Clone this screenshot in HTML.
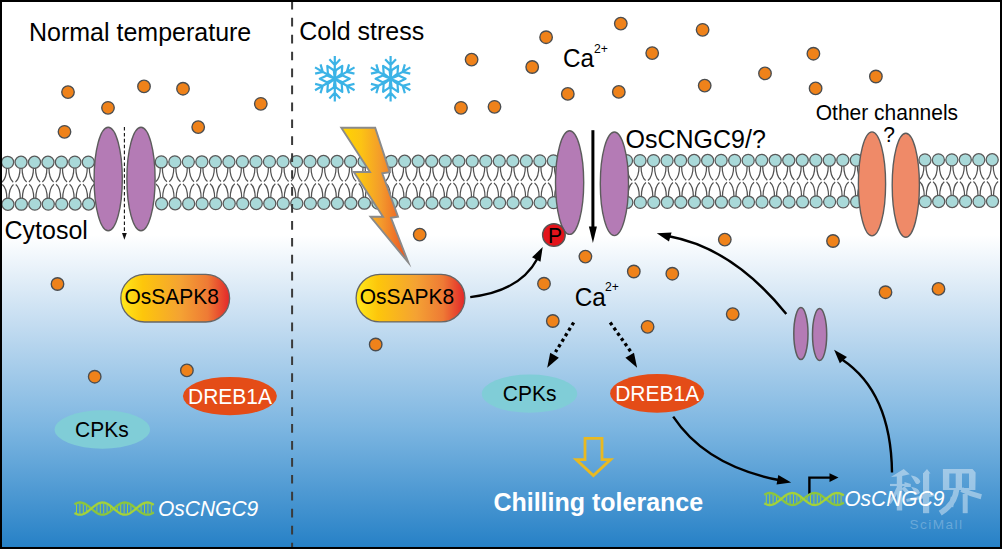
<!DOCTYPE html>
<html><head><meta charset="utf-8"><style>
html,body{margin:0;padding:0;background:#fff;overflow:hidden}
svg{display:block}
.hd{fill:#a9d9d9;stroke:#595959;stroke-width:1.25}
</style></head><body>
<svg width="1002" height="549" viewBox="0 0 1002 549">
<defs>
<linearGradient id="bg" x1="0" y1="200" x2="0" y2="549" gradientUnits="userSpaceOnUse">
<stop offset="0" stop-color="#ffffff"/>
<stop offset="0.1" stop-color="#ffffff"/>
<stop offset="0.35" stop-color="#c5ddf1"/>
<stop offset="0.65" stop-color="#7db6e1"/>
<stop offset="1" stop-color="#2580c6"/>
</linearGradient>
<linearGradient id="pillg" x1="0" y1="0" x2="1" y2="0">
<stop offset="0" stop-color="#ffea1c"/>
<stop offset="0.2" stop-color="#fdc60b"/>
<stop offset="0.55" stop-color="#f4a233"/>
<stop offset="0.8" stop-color="#ee7a35"/>
<stop offset="1" stop-color="#e3272a"/>
</linearGradient>
<linearGradient id="boltg" x1="341" y1="0" x2="408" y2="0" gradientUnits="userSpaceOnUse">
<stop offset="0" stop-color="#ffd500"/>
<stop offset="0.3" stop-color="#fcc314"/>
<stop offset="0.6" stop-color="#f39a2c"/>
<stop offset="0.85" stop-color="#ee6c28"/>
<stop offset="1" stop-color="#e8501e"/>
</linearGradient>
</defs>
<rect x="0" y="0" width="1002" height="549" fill="#ffffff"/>
<rect x="0" y="200" width="1002" height="349" fill="url(#bg)"/>
<g fill="none" stroke="#525252" stroke-width="1.25">
<path d="M6.60,167.33 C6.60,173.83 5.00,179.83 2.00,182.13 M8.60,167.33 C8.60,173.83 10.20,179.83 13.20,182.13" />
<path d="M6.90,199.23 C6.90,192.73 5.30,186.73 2.30,184.43 M8.90,199.23 C8.90,192.73 10.50,186.73 13.50,184.43" />
<path d="M20.05,167.29 C20.05,173.79 18.45,179.79 15.45,182.09 M22.05,167.29 C22.05,173.79 23.65,179.79 26.65,182.09" />
<path d="M20.35,199.19 C20.35,192.69 18.75,186.69 15.75,184.39 M22.35,199.19 C22.35,192.69 23.95,186.69 26.95,184.39" />
<path d="M33.50,167.26 C33.50,173.76 31.90,179.76 28.90,182.06 M35.50,167.26 C35.50,173.76 37.10,179.76 40.10,182.06" />
<path d="M33.80,199.15 C33.80,192.65 32.20,186.65 29.20,184.35 M35.80,199.15 C35.80,192.65 37.40,186.65 40.40,184.35" />
<path d="M46.95,167.22 C46.95,173.72 45.35,179.72 42.35,182.02 M48.95,167.22 C48.95,173.72 50.55,179.72 53.55,182.02" />
<path d="M47.25,199.11 C47.25,192.61 45.65,186.61 42.65,184.31 M49.25,199.11 C49.25,192.61 50.85,186.61 53.85,184.31" />
<path d="M60.40,167.19 C60.40,173.69 58.80,179.69 55.80,181.99 M62.40,167.19 C62.40,173.69 64.00,179.69 67.00,181.99" />
<path d="M60.70,199.07 C60.70,192.57 59.10,186.57 56.10,184.27 M62.70,199.07 C62.70,192.57 64.30,186.57 67.30,184.27" />
<path d="M73.85,167.15 C73.85,173.65 72.25,179.65 69.25,181.95 M75.85,167.15 C75.85,173.65 77.45,179.65 80.45,181.95" />
<path d="M74.15,199.03 C74.15,192.53 72.55,186.53 69.55,184.23 M76.15,199.03 C76.15,192.53 77.75,186.53 80.75,184.23" />
<path d="M87.30,167.12 C87.30,173.62 85.70,179.62 82.70,181.92 M89.30,167.12 C89.30,173.62 90.90,179.62 93.90,181.92" />
<path d="M87.60,198.99 C87.60,192.49 86.00,186.49 83.00,184.19 M89.60,198.99 C89.60,192.49 91.20,186.49 94.20,184.19" />
<circle cx="7.60" cy="162.33" r="6.05" class="hd"/>
<circle cx="7.90" cy="204.23" r="6.05" class="hd"/>
<circle cx="21.05" cy="162.29" r="6.05" class="hd"/>
<circle cx="21.35" cy="204.19" r="6.05" class="hd"/>
<circle cx="34.50" cy="162.26" r="6.05" class="hd"/>
<circle cx="34.80" cy="204.15" r="6.05" class="hd"/>
<circle cx="47.95" cy="162.22" r="6.05" class="hd"/>
<circle cx="48.25" cy="204.11" r="6.05" class="hd"/>
<circle cx="61.40" cy="162.19" r="6.05" class="hd"/>
<circle cx="61.70" cy="204.07" r="6.05" class="hd"/>
<circle cx="74.85" cy="162.15" r="6.05" class="hd"/>
<circle cx="75.15" cy="204.03" r="6.05" class="hd"/>
<circle cx="88.30" cy="162.12" r="6.05" class="hd"/>
<circle cx="88.60" cy="203.99" r="6.05" class="hd"/>
<path d="M160.30,166.93 C160.30,173.43 158.70,179.43 155.70,181.73 M162.30,166.93 C162.30,173.43 163.90,179.43 166.90,181.73" />
<path d="M160.60,198.78 C160.60,192.28 159.00,186.28 156.00,183.98 M162.60,198.78 C162.60,192.28 164.20,186.28 167.20,183.98" />
<path d="M173.82,166.89 C173.82,173.39 172.22,179.39 169.22,181.69 M175.82,166.89 C175.82,173.39 177.42,179.39 180.42,181.69" />
<path d="M174.12,198.74 C174.12,192.24 172.52,186.24 169.52,183.94 M176.12,198.74 C176.12,192.24 177.72,186.24 180.72,183.94" />
<path d="M187.34,166.86 C187.34,173.36 185.74,179.36 182.74,181.66 M189.34,166.86 C189.34,173.36 190.94,179.36 193.94,181.66" />
<path d="M187.64,198.70 C187.64,192.20 186.04,186.20 183.04,183.90 M189.64,198.70 C189.64,192.20 191.24,186.20 194.24,183.90" />
<path d="M200.86,166.82 C200.86,173.32 199.26,179.32 196.26,181.62 M202.86,166.82 C202.86,173.32 204.46,179.32 207.46,181.62" />
<path d="M201.16,198.66 C201.16,192.16 199.56,186.16 196.56,183.86 M203.16,198.66 C203.16,192.16 204.76,186.16 207.76,183.86" />
<path d="M214.38,166.79 C214.38,173.29 212.78,179.29 209.78,181.59 M216.38,166.79 C216.38,173.29 217.98,179.29 220.98,181.59" />
<path d="M214.68,198.63 C214.68,192.13 213.08,186.13 210.08,183.83 M216.68,198.63 C216.68,192.13 218.28,186.13 221.28,183.83" />
<path d="M227.90,166.75 C227.90,173.25 226.30,179.25 223.30,181.55 M229.90,166.75 C229.90,173.25 231.50,179.25 234.50,181.55" />
<path d="M228.20,198.59 C228.20,192.09 226.60,186.09 223.60,183.79 M230.20,198.59 C230.20,192.09 231.80,186.09 234.80,183.79" />
<path d="M241.42,166.71 C241.42,173.21 239.82,179.21 236.82,181.51 M243.42,166.71 C243.42,173.21 245.02,179.21 248.02,181.51" />
<path d="M241.72,198.55 C241.72,192.05 240.12,186.05 237.12,183.75 M243.72,198.55 C243.72,192.05 245.32,186.05 248.32,183.75" />
<path d="M254.94,166.68 C254.94,173.18 253.34,179.18 250.34,181.48 M256.94,166.68 C256.94,173.18 258.54,179.18 261.54,181.48" />
<path d="M255.24,198.51 C255.24,192.01 253.64,186.01 250.64,183.71 M257.24,198.51 C257.24,192.01 258.84,186.01 261.84,183.71" />
<path d="M268.46,166.64 C268.46,173.14 266.86,179.14 263.86,181.44 M270.46,166.64 C270.46,173.14 272.06,179.14 275.06,181.44" />
<path d="M268.76,198.47 C268.76,191.97 267.16,185.97 264.16,183.67 M270.76,198.47 C270.76,191.97 272.36,185.97 275.36,183.67" />
<path d="M281.98,166.61 C281.98,173.11 280.38,179.11 277.38,181.41 M283.98,166.61 C283.98,173.11 285.58,179.11 288.58,181.41" />
<path d="M282.28,198.43 C282.28,191.93 280.68,185.93 277.68,183.63 M284.28,198.43 C284.28,191.93 285.88,185.93 288.88,183.63" />
<path d="M295.50,166.57 C295.50,173.07 293.90,179.07 290.90,181.37 M297.50,166.57 C297.50,173.07 299.10,179.07 302.10,181.37" />
<path d="M295.80,198.39 C295.80,191.89 294.20,185.89 291.20,183.59 M297.80,198.39 C297.80,191.89 299.40,185.89 302.40,183.59" />
<path d="M309.02,166.54 C309.02,173.04 307.42,179.04 304.42,181.34 M311.02,166.54 C311.02,173.04 312.62,179.04 315.62,181.34" />
<path d="M309.32,198.35 C309.32,191.85 307.72,185.85 304.72,183.55 M311.32,198.35 C311.32,191.85 312.92,185.85 315.92,183.55" />
<path d="M322.54,166.50 C322.54,173.00 320.94,179.00 317.94,181.30 M324.54,166.50 C324.54,173.00 326.14,179.00 329.14,181.30" />
<path d="M322.84,198.31 C322.84,191.81 321.24,185.81 318.24,183.51 M324.84,198.31 C324.84,191.81 326.44,185.81 329.44,183.51" />
<path d="M336.06,166.47 C336.06,172.97 334.46,178.97 331.46,181.27 M338.06,166.47 C338.06,172.97 339.66,178.97 342.66,181.27" />
<path d="M336.36,198.27 C336.36,191.77 334.76,185.77 331.76,183.47 M338.36,198.27 C338.36,191.77 339.96,185.77 342.96,183.47" />
<path d="M349.58,166.43 C349.58,172.93 347.98,178.93 344.98,181.23 M351.58,166.43 C351.58,172.93 353.18,178.93 356.18,181.23" />
<path d="M349.88,198.23 C349.88,191.73 348.28,185.73 345.28,183.43 M351.88,198.23 C351.88,191.73 353.48,185.73 356.48,183.43" />
<path d="M363.10,166.40 C363.10,172.90 361.50,178.90 358.50,181.20 M365.10,166.40 C365.10,172.90 366.70,178.90 369.70,181.20" />
<path d="M363.40,198.19 C363.40,191.69 361.80,185.69 358.80,183.39 M365.40,198.19 C365.40,191.69 367.00,185.69 370.00,183.39" />
<path d="M376.62,166.36 C376.62,172.86 375.02,178.86 372.02,181.16 M378.62,166.36 C378.62,172.86 380.22,178.86 383.22,181.16" />
<path d="M376.92,198.15 C376.92,191.65 375.32,185.65 372.32,183.35 M378.92,198.15 C378.92,191.65 380.52,185.65 383.52,183.35" />
<path d="M390.14,166.33 C390.14,172.83 388.54,178.83 385.54,181.13 M392.14,166.33 C392.14,172.83 393.74,178.83 396.74,181.13" />
<path d="M390.44,198.12 C390.44,191.62 388.84,185.62 385.84,183.32 M392.44,198.12 C392.44,191.62 394.04,185.62 397.04,183.32" />
<path d="M403.66,166.29 C403.66,172.79 402.06,178.79 399.06,181.09 M405.66,166.29 C405.66,172.79 407.26,178.79 410.26,181.09" />
<path d="M403.96,198.08 C403.96,191.58 402.36,185.58 399.36,183.28 M405.96,198.08 C405.96,191.58 407.56,185.58 410.56,183.28" />
<path d="M417.18,166.25 C417.18,172.75 415.58,178.75 412.58,181.05 M419.18,166.25 C419.18,172.75 420.78,178.75 423.78,181.05" />
<path d="M417.48,198.04 C417.48,191.54 415.88,185.54 412.88,183.24 M419.48,198.04 C419.48,191.54 421.08,185.54 424.08,183.24" />
<path d="M430.70,166.22 C430.70,172.72 429.10,178.72 426.10,181.02 M432.70,166.22 C432.70,172.72 434.30,178.72 437.30,181.02" />
<path d="M431.00,198.00 C431.00,191.50 429.40,185.50 426.40,183.20 M433.00,198.00 C433.00,191.50 434.60,185.50 437.60,183.20" />
<path d="M444.22,166.18 C444.22,172.68 442.62,178.68 439.62,180.98 M446.22,166.18 C446.22,172.68 447.82,178.68 450.82,180.98" />
<path d="M444.52,197.96 C444.52,191.46 442.92,185.46 439.92,183.16 M446.52,197.96 C446.52,191.46 448.12,185.46 451.12,183.16" />
<path d="M457.74,166.15 C457.74,172.65 456.14,178.65 453.14,180.95 M459.74,166.15 C459.74,172.65 461.34,178.65 464.34,180.95" />
<path d="M458.04,197.92 C458.04,191.42 456.44,185.42 453.44,183.12 M460.04,197.92 C460.04,191.42 461.64,185.42 464.64,183.12" />
<path d="M471.26,166.11 C471.26,172.61 469.66,178.61 466.66,180.91 M473.26,166.11 C473.26,172.61 474.86,178.61 477.86,180.91" />
<path d="M471.56,197.88 C471.56,191.38 469.96,185.38 466.96,183.08 M473.56,197.88 C473.56,191.38 475.16,185.38 478.16,183.08" />
<path d="M484.78,166.08 C484.78,172.58 483.18,178.58 480.18,180.88 M486.78,166.08 C486.78,172.58 488.38,178.58 491.38,180.88" />
<path d="M485.08,197.84 C485.08,191.34 483.48,185.34 480.48,183.04 M487.08,197.84 C487.08,191.34 488.68,185.34 491.68,183.04" />
<path d="M498.30,166.04 C498.30,172.54 496.70,178.54 493.70,180.84 M500.30,166.04 C500.30,172.54 501.90,178.54 504.90,180.84" />
<path d="M498.60,197.80 C498.60,191.30 497.00,185.30 494.00,183.00 M500.60,197.80 C500.60,191.30 502.20,185.30 505.20,183.00" />
<path d="M511.82,166.01 C511.82,172.51 510.22,178.51 507.22,180.81 M513.82,166.01 C513.82,172.51 515.42,178.51 518.42,180.81" />
<path d="M512.12,197.76 C512.12,191.26 510.52,185.26 507.52,182.96 M514.12,197.76 C514.12,191.26 515.72,185.26 518.72,182.96" />
<path d="M525.34,165.97 C525.34,172.47 523.74,178.47 520.74,180.77 M527.34,165.97 C527.34,172.47 528.94,178.47 531.94,180.77" />
<path d="M525.64,197.72 C525.64,191.22 524.04,185.22 521.04,182.92 M527.64,197.72 C527.64,191.22 529.24,185.22 532.24,182.92" />
<path d="M538.86,165.94 C538.86,172.44 537.26,178.44 534.26,180.74 M540.86,165.94 C540.86,172.44 542.46,178.44 545.46,180.74" />
<path d="M539.16,197.68 C539.16,191.18 537.56,185.18 534.56,182.88 M541.16,197.68 C541.16,191.18 542.76,185.18 545.76,182.88" />
<path d="M552.38,165.90 C552.38,172.40 550.78,178.40 547.78,180.70 M554.38,165.90 C554.38,172.40 555.98,178.40 558.98,180.70" />
<path d="M552.68,197.65 C552.68,191.15 551.08,185.15 548.08,182.85 M554.68,197.65 C554.68,191.15 556.28,185.15 559.28,182.85" />
<circle cx="161.30" cy="161.93" r="6.05" class="hd"/>
<circle cx="161.60" cy="203.78" r="6.05" class="hd"/>
<circle cx="174.82" cy="161.89" r="6.05" class="hd"/>
<circle cx="175.12" cy="203.74" r="6.05" class="hd"/>
<circle cx="188.34" cy="161.86" r="6.05" class="hd"/>
<circle cx="188.64" cy="203.70" r="6.05" class="hd"/>
<circle cx="201.86" cy="161.82" r="6.05" class="hd"/>
<circle cx="202.16" cy="203.66" r="6.05" class="hd"/>
<circle cx="215.38" cy="161.79" r="6.05" class="hd"/>
<circle cx="215.68" cy="203.63" r="6.05" class="hd"/>
<circle cx="228.90" cy="161.75" r="6.05" class="hd"/>
<circle cx="229.20" cy="203.59" r="6.05" class="hd"/>
<circle cx="242.42" cy="161.71" r="6.05" class="hd"/>
<circle cx="242.72" cy="203.55" r="6.05" class="hd"/>
<circle cx="255.94" cy="161.68" r="6.05" class="hd"/>
<circle cx="256.24" cy="203.51" r="6.05" class="hd"/>
<circle cx="269.46" cy="161.64" r="6.05" class="hd"/>
<circle cx="269.76" cy="203.47" r="6.05" class="hd"/>
<circle cx="282.98" cy="161.61" r="6.05" class="hd"/>
<circle cx="283.28" cy="203.43" r="6.05" class="hd"/>
<circle cx="296.50" cy="161.57" r="6.05" class="hd"/>
<circle cx="296.80" cy="203.39" r="6.05" class="hd"/>
<circle cx="310.02" cy="161.54" r="6.05" class="hd"/>
<circle cx="310.32" cy="203.35" r="6.05" class="hd"/>
<circle cx="323.54" cy="161.50" r="6.05" class="hd"/>
<circle cx="323.84" cy="203.31" r="6.05" class="hd"/>
<circle cx="337.06" cy="161.47" r="6.05" class="hd"/>
<circle cx="337.36" cy="203.27" r="6.05" class="hd"/>
<circle cx="350.58" cy="161.43" r="6.05" class="hd"/>
<circle cx="350.88" cy="203.23" r="6.05" class="hd"/>
<circle cx="364.10" cy="161.40" r="6.05" class="hd"/>
<circle cx="364.40" cy="203.19" r="6.05" class="hd"/>
<circle cx="377.62" cy="161.36" r="6.05" class="hd"/>
<circle cx="377.92" cy="203.15" r="6.05" class="hd"/>
<circle cx="391.14" cy="161.33" r="6.05" class="hd"/>
<circle cx="391.44" cy="203.12" r="6.05" class="hd"/>
<circle cx="404.66" cy="161.29" r="6.05" class="hd"/>
<circle cx="404.96" cy="203.08" r="6.05" class="hd"/>
<circle cx="418.18" cy="161.25" r="6.05" class="hd"/>
<circle cx="418.48" cy="203.04" r="6.05" class="hd"/>
<circle cx="431.70" cy="161.22" r="6.05" class="hd"/>
<circle cx="432.00" cy="203.00" r="6.05" class="hd"/>
<circle cx="445.22" cy="161.18" r="6.05" class="hd"/>
<circle cx="445.52" cy="202.96" r="6.05" class="hd"/>
<circle cx="458.74" cy="161.15" r="6.05" class="hd"/>
<circle cx="459.04" cy="202.92" r="6.05" class="hd"/>
<circle cx="472.26" cy="161.11" r="6.05" class="hd"/>
<circle cx="472.56" cy="202.88" r="6.05" class="hd"/>
<circle cx="485.78" cy="161.08" r="6.05" class="hd"/>
<circle cx="486.08" cy="202.84" r="6.05" class="hd"/>
<circle cx="499.30" cy="161.04" r="6.05" class="hd"/>
<circle cx="499.60" cy="202.80" r="6.05" class="hd"/>
<circle cx="512.82" cy="161.01" r="6.05" class="hd"/>
<circle cx="513.12" cy="202.76" r="6.05" class="hd"/>
<circle cx="526.34" cy="160.97" r="6.05" class="hd"/>
<circle cx="526.64" cy="202.72" r="6.05" class="hd"/>
<circle cx="539.86" cy="160.94" r="6.05" class="hd"/>
<circle cx="540.16" cy="202.68" r="6.05" class="hd"/>
<circle cx="553.38" cy="160.90" r="6.05" class="hd"/>
<circle cx="553.68" cy="202.65" r="6.05" class="hd"/>
<path d="M625.50,165.71 C625.50,172.21 623.90,178.21 620.90,180.51 M627.50,165.71 C627.50,172.21 629.10,178.21 632.10,180.51" />
<path d="M625.80,197.43 C625.80,190.93 624.20,184.93 621.20,182.63 M627.80,197.43 C627.80,190.93 629.40,184.93 632.40,182.63" />
<path d="M639.02,165.67 C639.02,172.17 637.42,178.17 634.42,180.47 M641.02,165.67 C641.02,172.17 642.62,178.17 645.62,180.47" />
<path d="M639.32,197.39 C639.32,190.89 637.72,184.89 634.72,182.59 M641.32,197.39 C641.32,190.89 642.92,184.89 645.92,182.59" />
<path d="M652.54,165.64 C652.54,172.14 650.94,178.14 647.94,180.44 M654.54,165.64 C654.54,172.14 656.14,178.14 659.14,180.44" />
<path d="M652.84,197.35 C652.84,190.85 651.24,184.85 648.24,182.55 M654.84,197.35 C654.84,190.85 656.44,184.85 659.44,182.55" />
<path d="M666.06,165.60 C666.06,172.10 664.46,178.10 661.46,180.40 M668.06,165.60 C668.06,172.10 669.66,178.10 672.66,180.40" />
<path d="M666.36,197.32 C666.36,190.82 664.76,184.82 661.76,182.52 M668.36,197.32 C668.36,190.82 669.96,184.82 672.96,182.52" />
<path d="M679.58,165.57 C679.58,172.07 677.98,178.07 674.98,180.37 M681.58,165.57 C681.58,172.07 683.18,178.07 686.18,180.37" />
<path d="M679.88,197.28 C679.88,190.78 678.28,184.78 675.28,182.48 M681.88,197.28 C681.88,190.78 683.48,184.78 686.48,182.48" />
<path d="M693.10,165.53 C693.10,172.03 691.50,178.03 688.50,180.33 M695.10,165.53 C695.10,172.03 696.70,178.03 699.70,180.33" />
<path d="M693.40,197.24 C693.40,190.74 691.80,184.74 688.80,182.44 M695.40,197.24 C695.40,190.74 697.00,184.74 700.00,182.44" />
<path d="M706.62,165.50 C706.62,172.00 705.02,178.00 702.02,180.30 M708.62,165.50 C708.62,172.00 710.22,178.00 713.22,180.30" />
<path d="M706.92,197.20 C706.92,190.70 705.32,184.70 702.32,182.40 M708.92,197.20 C708.92,190.70 710.52,184.70 713.52,182.40" />
<path d="M720.14,165.46 C720.14,171.96 718.54,177.96 715.54,180.26 M722.14,165.46 C722.14,171.96 723.74,177.96 726.74,180.26" />
<path d="M720.44,197.16 C720.44,190.66 718.84,184.66 715.84,182.36 M722.44,197.16 C722.44,190.66 724.04,184.66 727.04,182.36" />
<path d="M733.66,165.43 C733.66,171.93 732.06,177.93 729.06,180.23 M735.66,165.43 C735.66,171.93 737.26,177.93 740.26,180.23" />
<path d="M733.96,197.12 C733.96,190.62 732.36,184.62 729.36,182.32 M735.96,197.12 C735.96,190.62 737.56,184.62 740.56,182.32" />
<path d="M747.18,165.39 C747.18,171.89 745.58,177.89 742.58,180.19 M749.18,165.39 C749.18,171.89 750.78,177.89 753.78,180.19" />
<path d="M747.48,197.08 C747.48,190.58 745.88,184.58 742.88,182.28 M749.48,197.08 C749.48,190.58 751.08,184.58 754.08,182.28" />
<path d="M760.70,165.35 C760.70,171.85 759.10,177.85 756.10,180.15 M762.70,165.35 C762.70,171.85 764.30,177.85 767.30,180.15" />
<path d="M761.00,197.04 C761.00,190.54 759.40,184.54 756.40,182.24 M763.00,197.04 C763.00,190.54 764.60,184.54 767.60,182.24" />
<path d="M774.22,165.32 C774.22,171.82 772.62,177.82 769.62,180.12 M776.22,165.32 C776.22,171.82 777.82,177.82 780.82,180.12" />
<path d="M774.52,197.00 C774.52,190.50 772.92,184.50 769.92,182.20 M776.52,197.00 C776.52,190.50 778.12,184.50 781.12,182.20" />
<path d="M787.74,165.28 C787.74,171.78 786.14,177.78 783.14,180.08 M789.74,165.28 C789.74,171.78 791.34,177.78 794.34,180.08" />
<path d="M788.04,196.96 C788.04,190.46 786.44,184.46 783.44,182.16 M790.04,196.96 C790.04,190.46 791.64,184.46 794.64,182.16" />
<path d="M801.26,165.25 C801.26,171.75 799.66,177.75 796.66,180.05 M803.26,165.25 C803.26,171.75 804.86,177.75 807.86,180.05" />
<path d="M801.56,196.92 C801.56,190.42 799.96,184.42 796.96,182.12 M803.56,196.92 C803.56,190.42 805.16,184.42 808.16,182.12" />
<path d="M814.78,165.21 C814.78,171.71 813.18,177.71 810.18,180.01 M816.78,165.21 C816.78,171.71 818.38,177.71 821.38,180.01" />
<path d="M815.08,196.88 C815.08,190.38 813.48,184.38 810.48,182.08 M817.08,196.88 C817.08,190.38 818.68,184.38 821.68,182.08" />
<path d="M828.30,165.18 C828.30,171.68 826.70,177.68 823.70,179.98 M830.30,165.18 C830.30,171.68 831.90,177.68 834.90,179.98" />
<path d="M828.60,196.85 C828.60,190.35 827.00,184.35 824.00,182.05 M830.60,196.85 C830.60,190.35 832.20,184.35 835.20,182.05" />
<path d="M841.82,165.14 C841.82,171.64 840.22,177.64 837.22,179.94 M843.82,165.14 C843.82,171.64 845.42,177.64 848.42,179.94" />
<path d="M842.12,196.81 C842.12,190.31 840.52,184.31 837.52,182.01 M844.12,196.81 C844.12,190.31 845.72,184.31 848.72,182.01" />
<path d="M855.34,165.11 C855.34,171.61 853.74,177.61 850.74,179.91 M857.34,165.11 C857.34,171.61 858.94,177.61 861.94,179.91" />
<path d="M855.64,196.77 C855.64,190.27 854.04,184.27 851.04,181.97 M857.64,196.77 C857.64,190.27 859.24,184.27 862.24,181.97" />
<circle cx="626.50" cy="160.71" r="6.05" class="hd"/>
<circle cx="626.80" cy="202.43" r="6.05" class="hd"/>
<circle cx="640.02" cy="160.67" r="6.05" class="hd"/>
<circle cx="640.32" cy="202.39" r="6.05" class="hd"/>
<circle cx="653.54" cy="160.64" r="6.05" class="hd"/>
<circle cx="653.84" cy="202.35" r="6.05" class="hd"/>
<circle cx="667.06" cy="160.60" r="6.05" class="hd"/>
<circle cx="667.36" cy="202.32" r="6.05" class="hd"/>
<circle cx="680.58" cy="160.57" r="6.05" class="hd"/>
<circle cx="680.88" cy="202.28" r="6.05" class="hd"/>
<circle cx="694.10" cy="160.53" r="6.05" class="hd"/>
<circle cx="694.40" cy="202.24" r="6.05" class="hd"/>
<circle cx="707.62" cy="160.50" r="6.05" class="hd"/>
<circle cx="707.92" cy="202.20" r="6.05" class="hd"/>
<circle cx="721.14" cy="160.46" r="6.05" class="hd"/>
<circle cx="721.44" cy="202.16" r="6.05" class="hd"/>
<circle cx="734.66" cy="160.43" r="6.05" class="hd"/>
<circle cx="734.96" cy="202.12" r="6.05" class="hd"/>
<circle cx="748.18" cy="160.39" r="6.05" class="hd"/>
<circle cx="748.48" cy="202.08" r="6.05" class="hd"/>
<circle cx="761.70" cy="160.35" r="6.05" class="hd"/>
<circle cx="762.00" cy="202.04" r="6.05" class="hd"/>
<circle cx="775.22" cy="160.32" r="6.05" class="hd"/>
<circle cx="775.52" cy="202.00" r="6.05" class="hd"/>
<circle cx="788.74" cy="160.28" r="6.05" class="hd"/>
<circle cx="789.04" cy="201.96" r="6.05" class="hd"/>
<circle cx="802.26" cy="160.25" r="6.05" class="hd"/>
<circle cx="802.56" cy="201.92" r="6.05" class="hd"/>
<circle cx="815.78" cy="160.21" r="6.05" class="hd"/>
<circle cx="816.08" cy="201.88" r="6.05" class="hd"/>
<circle cx="829.30" cy="160.18" r="6.05" class="hd"/>
<circle cx="829.60" cy="201.85" r="6.05" class="hd"/>
<circle cx="842.82" cy="160.14" r="6.05" class="hd"/>
<circle cx="843.12" cy="201.81" r="6.05" class="hd"/>
<circle cx="856.34" cy="160.11" r="6.05" class="hd"/>
<circle cx="856.64" cy="201.77" r="6.05" class="hd"/>
<path d="M910.50,164.96 C910.50,171.46 908.90,177.46 905.90,179.76 M912.50,164.96 C912.50,171.46 914.10,177.46 917.10,179.76" />
<path d="M910.80,196.61 C910.80,190.11 909.20,184.11 906.20,181.81 M912.80,196.61 C912.80,190.11 914.40,184.11 917.40,181.81" />
<path d="M923.95,164.93 C923.95,171.43 922.35,177.43 919.35,179.73 M925.95,164.93 C925.95,171.43 927.55,177.43 930.55,179.73" />
<path d="M924.25,196.57 C924.25,190.07 922.65,184.07 919.65,181.77 M926.25,196.57 C926.25,190.07 927.85,184.07 930.85,181.77" />
<path d="M937.40,164.89 C937.40,171.39 935.80,177.39 932.80,179.69 M939.40,164.89 C939.40,171.39 941.00,177.39 944.00,179.69" />
<path d="M937.70,196.53 C937.70,190.03 936.10,184.03 933.10,181.73 M939.70,196.53 C939.70,190.03 941.30,184.03 944.30,181.73" />
<path d="M950.85,164.86 C950.85,171.36 949.25,177.36 946.25,179.66 M952.85,164.86 C952.85,171.36 954.45,177.36 957.45,179.66" />
<path d="M951.15,196.49 C951.15,189.99 949.55,183.99 946.55,181.69 M953.15,196.49 C953.15,189.99 954.75,183.99 957.75,181.69" />
<path d="M964.30,164.82 C964.30,171.32 962.70,177.32 959.70,179.62 M966.30,164.82 C966.30,171.32 967.90,177.32 970.90,179.62" />
<path d="M964.60,196.45 C964.60,189.95 963.00,183.95 960.00,181.65 M966.60,196.45 C966.60,189.95 968.20,183.95 971.20,181.65" />
<path d="M977.75,164.79 C977.75,171.29 976.15,177.29 973.15,179.59 M979.75,164.79 C979.75,171.29 981.35,177.29 984.35,179.59" />
<path d="M978.05,196.41 C978.05,189.91 976.45,183.91 973.45,181.61 M980.05,196.41 C980.05,189.91 981.65,183.91 984.65,181.61" />
<path d="M991.20,164.75 C991.20,171.25 989.60,177.25 986.60,179.55 M993.20,164.75 C993.20,171.25 994.80,177.25 997.80,179.55" />
<path d="M991.50,196.37 C991.50,189.87 989.90,183.87 986.90,181.57 M993.50,196.37 C993.50,189.87 995.10,183.87 998.10,181.57" />
<circle cx="911.50" cy="159.96" r="6.05" class="hd"/>
<circle cx="911.80" cy="201.61" r="6.05" class="hd"/>
<circle cx="924.95" cy="159.93" r="6.05" class="hd"/>
<circle cx="925.25" cy="201.57" r="6.05" class="hd"/>
<circle cx="938.40" cy="159.89" r="6.05" class="hd"/>
<circle cx="938.70" cy="201.53" r="6.05" class="hd"/>
<circle cx="951.85" cy="159.86" r="6.05" class="hd"/>
<circle cx="952.15" cy="201.49" r="6.05" class="hd"/>
<circle cx="965.30" cy="159.82" r="6.05" class="hd"/>
<circle cx="965.60" cy="201.45" r="6.05" class="hd"/>
<circle cx="978.75" cy="159.79" r="6.05" class="hd"/>
<circle cx="979.05" cy="201.41" r="6.05" class="hd"/>
<circle cx="992.20" cy="159.75" r="6.05" class="hd"/>
<circle cx="992.50" cy="201.37" r="6.05" class="hd"/>
</g>
<line x1="292.1" y1="0" x2="292.1" y2="549" stroke="#3a3a3a" stroke-width="2" stroke-dasharray="8.7 8.23" stroke-dashoffset="-0.87"/>
<ellipse cx="108.2" cy="179" rx="14.1" ry="51.8" fill="#b47bb5" stroke="#5c5c5c" stroke-width="1.4"/>
<ellipse cx="141" cy="179" rx="14.1" ry="51.8" fill="#b47bb5" stroke="#5c5c5c" stroke-width="1.4"/>
<line x1="124.4" y1="127" x2="124.4" y2="234" stroke="#111" stroke-width="1.1" stroke-dasharray="3.6 2.3"/>
<path d="M122.0,233 L126.8,233 L124.4,239.8 Z" fill="#111"/>
<ellipse cx="569.6" cy="182.6" rx="14.1" ry="51.8" fill="#b47bb5" stroke="#5c5c5c" stroke-width="1.4"/>
<ellipse cx="614.4" cy="183.8" rx="14.1" ry="51.8" fill="#b47bb5" stroke="#5c5c5c" stroke-width="1.4"/>
<ellipse cx="872" cy="183.9" rx="13.6" ry="52" fill="#ef8a68" stroke="#5c5c5c" stroke-width="1.4"/>
<ellipse cx="905.8" cy="185.2" rx="13.6" ry="52" fill="#ef8a68" stroke="#5c5c5c" stroke-width="1.4"/>
<ellipse cx="800.9" cy="333.6" rx="7.1" ry="26" fill="#b47bb5" stroke="#5c5c5c" stroke-width="1.5"/>
<ellipse cx="819.6" cy="334.5" rx="7.1" ry="26" fill="#b47bb5" stroke="#5c5c5c" stroke-width="1.5"/>
<line x1="592.9" y1="130.2" x2="592.9" y2="229" stroke="#000" stroke-width="3"/>
<path d="M588.9,226.5 L596.9,226.5 L592.9,243 Z" fill="#000"/>
<g fill="#ef821a" stroke="#4a4d50" stroke-width="1.35">
<circle cx="68.0" cy="92.1" r="6.25"/>
<circle cx="108.0" cy="107.8" r="6.25"/>
<circle cx="144.0" cy="86.4" r="6.25"/>
<circle cx="183.0" cy="88.7" r="6.25"/>
<circle cx="260.8" cy="103.8" r="6.25"/>
<circle cx="64.5" cy="131.8" r="6.25"/>
<circle cx="198.2" cy="127.1" r="6.25"/>
<circle cx="57.5" cy="284.0" r="6.25"/>
<circle cx="94.7" cy="376.7" r="6.25"/>
<circle cx="186.9" cy="370.4" r="6.25"/>
<circle cx="471.6" cy="59.6" r="6.25"/>
<circle cx="546.1" cy="37.2" r="6.25"/>
<circle cx="532.2" cy="67.0" r="6.25"/>
<circle cx="620.8" cy="23.6" r="6.25"/>
<circle cx="652.2" cy="53.1" r="6.25"/>
<circle cx="567.8" cy="93.9" r="6.25"/>
<circle cx="618.8" cy="91.9" r="6.25"/>
<circle cx="461.0" cy="107.8" r="6.25"/>
<circle cx="494.5" cy="106.8" r="6.25"/>
<circle cx="702.6" cy="29.8" r="6.25"/>
<circle cx="704.7" cy="85.6" r="6.25"/>
<circle cx="765.0" cy="73.4" r="6.25"/>
<circle cx="813.4" cy="53.7" r="6.25"/>
<circle cx="815.6" cy="88.4" r="6.25"/>
<circle cx="875.9" cy="76.5" r="6.25"/>
<circle cx="419.7" cy="234.6" r="6.25"/>
<circle cx="375.7" cy="344.5" r="6.25"/>
<circle cx="585.4" cy="256.6" r="6.25"/>
<circle cx="633.8" cy="271.5" r="6.25"/>
<circle cx="672.3" cy="273.7" r="6.25"/>
<circle cx="544.0" cy="283.7" r="6.25"/>
<circle cx="724.8" cy="239.6" r="6.25"/>
<circle cx="552.8" cy="321.0" r="6.25"/>
<circle cx="647.6" cy="326.8" r="6.25"/>
<circle cx="732.7" cy="314.1" r="6.25"/>
<circle cx="833.0" cy="241.0" r="6.25"/>
<circle cx="885.5" cy="292.2" r="6.25"/>
<circle cx="938.5" cy="288.9" r="6.25"/>
</g>
<polygon points="341.3,127.7 375.2,127.7 389.8,172.3 382.3,173.3 398.0,216.8 391.0,217.8 408.3,262.5 370.5,216.8 383.0,216.8 353.8,172.0 370.0,172.0" fill="url(#boltg)" stroke="#8a8a8a" stroke-width="1.9" stroke-miterlimit="10" stroke-linejoin="miter"/>
<path d="M334.80,78.80 L334.80,56.00 M340.20,59.20 L334.80,64.90 L329.40,59.20 M334.80,78.80 L315.05,67.40 M320.53,64.32 L322.76,71.85 L315.13,73.68 M334.80,78.80 L315.05,90.20 M315.13,83.92 L322.76,85.75 L320.53,93.28 M334.80,78.80 L334.80,101.60 M329.40,98.40 L334.80,92.70 L340.20,98.40 M334.80,78.80 L354.55,90.20 M349.07,93.28 L346.84,85.75 L354.47,83.92 M334.80,78.80 L354.55,67.40 M354.47,73.68 L346.84,71.85 L349.07,64.32 M334.80,78.80 L342.70,82.20 L349.80,78.80 L342.70,75.40 Z M334.80,78.80 L341.69,73.66 L342.30,65.81 L335.81,70.26 Z M334.80,78.80 L333.79,70.26 L327.30,65.81 L327.91,73.66 Z M334.80,78.80 L326.90,75.40 L319.80,78.80 L326.90,82.20 Z M334.80,78.80 L327.91,83.94 L327.30,91.79 L333.79,87.34 Z M334.80,78.80 L335.81,87.34 L342.30,91.79 L341.69,83.94 Z" fill="none" stroke="#3bb3e6" stroke-width="2.2" stroke-linejoin="round"/>
<path d="M390.60,78.80 L390.60,56.00 M396.00,59.20 L390.60,64.90 L385.20,59.20 M390.60,78.80 L370.85,67.40 M376.33,64.32 L378.56,71.85 L370.93,73.68 M390.60,78.80 L370.85,90.20 M370.93,83.92 L378.56,85.75 L376.33,93.28 M390.60,78.80 L390.60,101.60 M385.20,98.40 L390.60,92.70 L396.00,98.40 M390.60,78.80 L410.35,90.20 M404.87,93.28 L402.64,85.75 L410.27,83.92 M390.60,78.80 L410.35,67.40 M410.27,73.68 L402.64,71.85 L404.87,64.32 M390.60,78.80 L398.50,82.20 L405.60,78.80 L398.50,75.40 Z M390.60,78.80 L397.49,73.66 L398.10,65.81 L391.61,70.26 Z M390.60,78.80 L389.59,70.26 L383.10,65.81 L383.71,73.66 Z M390.60,78.80 L382.70,75.40 L375.60,78.80 L382.70,82.20 Z M390.60,78.80 L383.71,83.94 L383.10,91.79 L389.59,87.34 Z M390.60,78.80 L391.61,87.34 L398.10,91.79 L397.49,83.94 Z" fill="none" stroke="#3bb3e6" stroke-width="2.2" stroke-linejoin="round"/>
<g font-family="'Liberation Sans', sans-serif">
<text transform="translate(29.0,40.6) scale(1,1.04)" font-size="25" >Normal temperature</text>
<text transform="translate(299.2,40.0) scale(1,1.04)" font-size="25" >Cold stress</text>
<text transform="translate(4.5,239.0) scale(1,1.04)" font-size="25" >Cytosol</text>
<text transform="translate(625.5,148.0) scale(1,1.0)" font-size="25" >OsCNGC9/?</text>
<text transform="translate(815.8,119.8) scale(1,1.04)" font-size="21" >Other channels</text>
<text transform="translate(883.2,141.5) scale(1,1.04)" font-size="21" >?</text>
<text transform="translate(562.9,67.0) scale(1,1.04)" font-size="24.3" >Ca</text>
<text transform="translate(593.9,52.8) scale(1,1.04)" font-size="12.2" >2+</text>
<text transform="translate(574.8,305.8) scale(1,1.04)" font-size="24.3" >Ca</text>
<text transform="translate(604.9,290.9) scale(1,1.04)" font-size="12.2" >2+</text>
</g>
<rect x="120.8" y="274.4" width="108.8" height="47.6" rx="23.8" ry="23.8" fill="url(#pillg)" stroke="#666" stroke-width="1.3"/>
<rect x="356.1" y="274.3" width="108.8" height="47.6" rx="23.8" ry="23.8" fill="url(#pillg)" stroke="#666" stroke-width="1.3"/>
<g font-family="'Liberation Sans', sans-serif">
<text transform="translate(124.5,303.8) scale(1,1.04)" font-size="21" >OsSAPK8</text>
<text transform="translate(359.8,303.8) scale(1,1.04)" font-size="21" >OsSAPK8</text>
</g>
<ellipse cx="102.3" cy="429.5" rx="47.7" ry="19.2" fill="#80cdd7"/>
<ellipse cx="229.9" cy="396.1" rx="47" ry="19.2" fill="#e44c17"/>
<ellipse cx="529.5" cy="393.7" rx="47.7" ry="19.1" fill="#80cdd7"/>
<ellipse cx="657.1" cy="393.4" rx="47" ry="19.3" fill="#e44c17"/>
<g font-family="'Liberation Sans', sans-serif">
<text transform="translate(75.0,437.2) scale(1,1.04)" font-size="21" >CPKs</text>
<text transform="translate(188.0,403.5) scale(1,1.04)" font-size="21" fill="#fff" >DREB1A</text>
<text transform="translate(502.8,401.0) scale(1,1.04)" font-size="21" >CPKs</text>
<text transform="translate(615.2,400.8) scale(1,1.04)" font-size="21" fill="#fff" >DREB1A</text>
</g>
<circle cx="553.9" cy="235.05" r="11.3" fill="#e3141b" stroke="#555" stroke-width="1.4"/>
<text transform="translate(548.0,242.7) scale(1,1.04)" font-size="21" font-family="'Liberation Sans', sans-serif">P</text>
<g fill="none" stroke="#000" stroke-width="2.4">
<path d="M470.2,297.1 C498,294 524,284 537.5,258.5"/>
<path d="M673.2,416.6 Q706,466 780,480.3"/>
<path d="M892,472.5 Q891,392 842,359.5"/>
<path d="M786.3,314 Q733,248 669,236.2"/>
</g>
<path d="M542.70,247.10 L540.46,261.71 L532.03,257.33 Z" fill="#000"/>
<path d="M791.20,482.40 L776.56,484.44 L778.34,475.11 Z" fill="#000"/>
<path d="M834.10,349.70 L846.94,357.03 L839.83,363.33 Z" fill="#000"/>
<path d="M656.80,233.20 L671.56,232.44 L668.98,241.58 Z" fill="#000"/>
<g fill="none" stroke="#000" stroke-width="3.3" stroke-dasharray="3.2 3.2">
<line x1="573.7" y1="322.5" x2="555.5" y2="352.0"/>
<line x1="610.2" y1="322.5" x2="631.0" y2="352.0"/>
</g>
<path d="M547.20,367.70 L550.22,352.66 L558.85,357.72 Z" fill="#000"/>
<path d="M637.10,367.70 L625.39,357.80 L633.98,352.68 Z" fill="#000"/>
<path d="M585,438.3 L602,438.3 L602,459.6 L610.6,459.6 L593.4,475.6 L576.2,459.6 L585,459.6 Z" fill="none" stroke="#e9b921" stroke-width="2.8" stroke-linejoin="miter"/>
<text transform="translate(493.4,511.2) scale(1,1.04)" font-size="25" fill="#fff" font-family="'Liberation Sans', sans-serif" font-weight="bold">Chilling tolerance</text>
<path d="M809.4,495.5 L809.4,477.6 L831,477.6" fill="none" stroke="#000" stroke-width="2.4"/>
<path d="M838.5,477.6 L829.5,473.2 L829.5,482 Z" fill="#000"/>
<path d="M76.50,504.26 L76.50,512.94 M79.90,503.50 L79.90,513.70 M83.30,504.10 L83.30,513.10 M86.70,505.93 L86.70,511.27 M96.90,505.29 L96.90,511.91 M100.30,503.79 L100.30,513.41 M103.70,503.59 L103.70,513.61 M107.10,504.73 L107.10,512.47 M110.50,506.95 L110.50,510.25 M117.30,506.65 L117.30,510.55 M120.70,504.53 L120.70,512.67 M124.10,503.54 L124.10,513.66 M127.50,503.90 L127.50,513.30 M130.90,505.54 L130.90,511.66 M141.10,505.66 L141.10,511.54 M144.50,503.96 L144.50,513.24 M147.90,503.52 L147.90,513.68 M151.30,504.43 L151.30,512.77" stroke="#9fd23a" stroke-width="1.0" fill="none"/>
<path d="M74.50,504.29 L75.49,503.73 L76.48,503.27 L77.47,502.91 L78.47,502.66 L79.46,502.52 L80.45,502.51 L81.44,502.61 L82.43,502.82 L83.42,503.15 L84.41,503.58 L85.40,504.11 L86.39,504.73 L87.39,505.42 L88.38,506.17 L89.37,506.97 L90.36,507.80 L91.35,508.64 L92.34,509.49 L93.33,510.32 L94.33,511.11 L95.32,511.86 L96.31,512.54 L97.30,513.15 L98.29,513.67 L99.28,514.09 L100.27,514.40 L101.26,514.61 L102.26,514.70 L103.25,514.67 L104.24,514.52 L105.23,514.26 L106.22,513.89 L107.21,513.42 L108.20,512.85 L109.19,512.20 L110.19,511.49 L111.18,510.71 L112.17,509.90 L113.16,509.06 L114.15,508.22 L115.14,507.38 L116.13,506.56 L117.12,505.78 L118.12,505.06 L119.11,504.41 L120.10,503.83 L121.09,503.35 L122.08,502.97 L123.07,502.70 L124.06,502.54 L125.05,502.50 L126.05,502.58 L127.04,502.77 L128.03,503.08 L129.02,503.49 L130.01,504.00 L131.00,504.60 L131.99,505.28 L132.98,506.02 L133.98,506.81 L134.97,507.63 L135.96,508.48 L136.95,509.32 L137.94,510.16 L138.93,510.96 L139.92,511.72 L140.91,512.41 L141.91,513.04 L142.90,513.57 L143.89,514.01 L144.88,514.35 L145.87,514.58 L146.86,514.69 L147.85,514.68 L148.84,514.56 L149.84,514.32 L150.83,513.97 L151.82,513.52 L152.81,512.97 L153.80,512.34" stroke="#8cc63c" stroke-width="2.3" fill="none"/>
<path d="M74.50,512.91 L75.49,513.47 L76.48,513.93 L77.47,514.29 L78.47,514.54 L79.46,514.68 L80.45,514.69 L81.44,514.59 L82.43,514.38 L83.42,514.05 L84.41,513.62 L85.40,513.09 L86.39,512.47 L87.39,511.78 L88.38,511.03 L89.37,510.23 L90.36,509.40 L91.35,508.56 L92.34,507.71 L93.33,506.88 L94.33,506.09 L95.32,505.34 L96.31,504.66 L97.30,504.05 L98.29,503.53 L99.28,503.11 L100.27,502.80 L101.26,502.59 L102.26,502.50 L103.25,502.53 L104.24,502.68 L105.23,502.94 L106.22,503.31 L107.21,503.78 L108.20,504.35 L109.19,505.00 L110.19,505.71 L111.18,506.49 L112.17,507.30 L113.16,508.14 L114.15,508.98 L115.14,509.82 L116.13,510.64 L117.12,511.42 L118.12,512.14 L119.11,512.79 L120.10,513.37 L121.09,513.85 L122.08,514.23 L123.07,514.50 L124.06,514.66 L125.05,514.70 L126.05,514.62 L127.04,514.43 L128.03,514.12 L129.02,513.71 L130.01,513.20 L131.00,512.60 L131.99,511.92 L132.98,511.18 L133.98,510.39 L134.97,509.57 L135.96,508.72 L136.95,507.88 L137.94,507.04 L138.93,506.24 L139.92,505.48 L140.91,504.79 L141.91,504.16 L142.90,503.63 L143.89,503.19 L144.88,502.85 L145.87,502.62 L146.86,502.51 L147.85,502.52 L148.84,502.64 L149.84,502.88 L150.83,503.23 L151.82,503.68 L152.81,504.23 L153.80,504.86" stroke="#a3d23a" stroke-width="2.3" fill="none"/>
<path d="M766.30,494.75 L766.30,503.25 M769.70,494.00 L769.70,504.00 M773.10,494.59 L773.10,503.41 M776.50,496.39 L776.50,501.61 M786.70,495.76 L786.70,502.24 M790.10,494.28 L790.10,503.72 M793.50,494.08 L793.50,503.92 M796.90,495.21 L796.90,502.79 M800.30,497.40 L800.30,500.60 M807.10,497.10 L807.10,500.90 M810.50,495.01 L810.50,502.99 M813.90,494.04 L813.90,503.96 M817.30,494.39 L817.30,503.61 M820.70,496.00 L820.70,502.00 M830.90,496.13 L830.90,501.87 M834.30,494.46 L834.30,503.54 M837.70,494.02 L837.70,503.98 M841.10,494.92 L841.10,503.08" stroke="#9fd23a" stroke-width="1.0" fill="none"/>
<path d="M764.30,494.76 L765.29,494.21 L766.29,493.75 L767.28,493.40 L768.27,493.16 L769.27,493.02 L770.26,493.01 L771.26,493.11 L772.25,493.32 L773.24,493.65 L774.24,494.08 L775.23,494.60 L776.22,495.21 L777.22,495.89 L778.21,496.64 L779.21,497.43 L780.20,498.24 L781.19,499.08 L782.19,499.91 L783.18,500.73 L784.17,501.51 L785.17,502.24 L786.16,502.91 L787.16,503.51 L788.15,504.01 L789.14,504.42 L790.14,504.73 L791.13,504.92 L792.12,505.00 L793.12,504.96 L794.11,504.81 L795.11,504.54 L796.10,504.17 L797.09,503.69 L798.09,503.13 L799.08,502.48 L800.07,501.77 L801.07,501.01 L802.06,500.20 L803.06,499.37 L804.05,498.54 L805.04,497.71 L806.04,496.91 L807.03,496.15 L808.02,495.44 L809.02,494.81 L810.01,494.25 L811.01,493.79 L812.00,493.43 L812.99,493.17 L813.99,493.03 L814.98,493.00 L815.97,493.10 L816.97,493.30 L817.96,493.62 L818.96,494.04 L819.95,494.55 L820.94,495.16 L821.94,495.83 L822.93,496.57 L823.92,497.36 L824.92,498.18 L825.91,499.01 L826.91,499.84 L827.90,500.66 L828.89,501.45 L829.89,502.18 L830.88,502.86 L831.88,503.46 L832.87,503.97 L833.86,504.39 L834.86,504.71 L835.85,504.91 L836.84,505.00 L837.84,504.97 L838.83,504.82 L839.82,504.57 L840.82,504.20 L841.81,503.74 L842.81,503.18 L843.80,502.54" stroke="#8cc63c" stroke-width="2.3" fill="none"/>
<path d="M764.30,503.24 L765.29,503.79 L766.29,504.25 L767.28,504.60 L768.27,504.84 L769.27,504.98 L770.26,504.99 L771.26,504.89 L772.25,504.68 L773.24,504.35 L774.24,503.92 L775.23,503.40 L776.22,502.79 L777.22,502.11 L778.21,501.36 L779.21,500.57 L780.20,499.76 L781.19,498.92 L782.19,498.09 L783.18,497.27 L784.17,496.49 L785.17,495.76 L786.16,495.09 L787.16,494.49 L788.15,493.99 L789.14,493.58 L790.14,493.27 L791.13,493.08 L792.12,493.00 L793.12,493.04 L794.11,493.19 L795.11,493.46 L796.10,493.83 L797.09,494.31 L798.09,494.87 L799.08,495.52 L800.07,496.23 L801.07,496.99 L802.06,497.80 L803.06,498.63 L804.05,499.46 L805.04,500.29 L806.04,501.09 L807.03,501.85 L808.02,502.56 L809.02,503.19 L810.01,503.75 L811.01,504.21 L812.00,504.57 L812.99,504.83 L813.99,504.97 L814.98,505.00 L815.97,504.90 L816.97,504.70 L817.96,504.38 L818.96,503.96 L819.95,503.45 L820.94,502.84 L821.94,502.17 L822.93,501.43 L823.92,500.64 L824.92,499.82 L825.91,498.99 L826.91,498.16 L827.90,497.34 L828.89,496.55 L829.89,495.82 L830.88,495.14 L831.88,494.54 L832.87,494.03 L833.86,493.61 L834.86,493.29 L835.85,493.09 L836.84,493.00 L837.84,493.03 L838.83,493.18 L839.82,493.43 L840.82,493.80 L841.81,494.26 L842.81,494.82 L843.80,495.46" stroke="#a3d23a" stroke-width="2.3" fill="none"/>
<g font-family="'Liberation Sans', sans-serif" font-style="italic" fill="#fff">
<text transform="translate(158.0,516.4) scale(1,1.04)" font-size="21" >OsCNGC9</text>
<text transform="translate(844.2,506.2) scale(1,1.04)" font-size="21" >OsCNGC9</text>
</g>
<g opacity="0.42" fill="#ffffff" stroke="#ffffff" stroke-linecap="butt">
<path d="M890.9,477 L903.7,468.9 L909.8,474.3 L902,476 Z" stroke="none"/>
<path d="M899.5,474 L899.5,510.5" fill="none" stroke-width="5.4"/>
<path d="M890,485 L906,485" fill="none" stroke-width="2.2"/>
<path d="M904.5,482 L910.8,484 L910.8,487 L904.5,487 Z" stroke="none"/>
<path d="M898,488 Q895,496 889.5,503" fill="none" stroke-width="3.2"/>
<path d="M903,487.5 L908.5,493.5" fill="none" stroke-width="3.8"/>
<path d="M912.5,476.5 Q918,477.5 919.5,481.5 Q918.5,484 916.5,483 Q914.5,479.5 912.5,476.5 Z" stroke-width="1.6"/>
<path d="M912.8,488 Q918,489 919,492.5 Q918,494 916.5,493.5 Q914.5,490.5 912.8,488 Z" stroke-width="1.6"/>
<path d="M906.5,500.5 L934,494.5" fill="none" stroke-width="3.2"/>
<path d="M926.1,473 L926.1,513.2" fill="none" stroke-width="6.2"/>
<path d="M923,473.5 L927,468.9 L930.5,473.5 Z" stroke="none"/>
<path d="M942.9,468.9 L972.5,468.9 L975.6,472.5 L975.4,490 L942.9,490 Z M949.3,473.4 L949.3,488.1 L955.7,488.1 L955.7,473.4 Z M962,473.4 L962,488.1 L969,488.1 L969,473.4 Z" fill-rule="evenodd" stroke="none"/>
<path d="M956.5,489.5 Q955,504 940.2,513.2" fill="none" stroke-width="5.6"/>
<path d="M961.5,489.5 Q970,494 981.3,496.8" fill="none" stroke-width="5"/>
<path d="M965.2,494 L965.2,513.2" fill="none" stroke-width="5"/>
<path d="M952.5,497 L951.5,507" fill="none" stroke-width="3.6"/>
</g>
<text x="909.6" y="528.9" font-size="13.6" fill="#ffffff" fill-opacity="0.26" font-family="'Liberation Sans', sans-serif" letter-spacing="1.45">SciMall</text>
<rect x="1" y="1" width="1000" height="547" fill="none" stroke="#000" stroke-width="2"/>
</svg>
</body></html>
